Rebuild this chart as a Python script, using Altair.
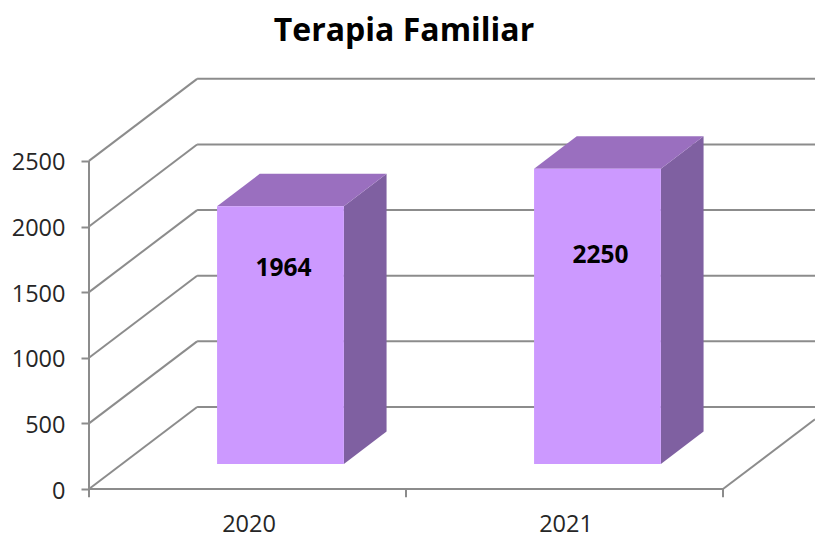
import altair as alt
import pandas as pd

categories = ["2020", "2021"]
values = [1964, 2250]
label_heights = [1486, 1585]
y_ticks = [0, 500, 1000, 1500, 2000, 2500]
title_text = "Terapia Familiar"

# oblique projection of the 3D chart, in data units
DEPTH_X, DEPTH_Y = 0.341, 625
BAR_D0, BAR_D1 = 0.305, 0.70
BAR_W = 0.40
UNIT_PX = 317
WIDTH = 726
XMAX, YMAX = WIDTH / UNIT_PX, 3200
GRID = "#8c8c8c"
FONT = "Open Sans"

xs = alt.Scale(domain=[0, XMAX], nice=False, zero=False)
ys = alt.Scale(domain=[0, YMAX], nice=False, zero=False)
X = lambda c: alt.X(c, type="quantitative", scale=xs, title=None,
                    axis=alt.Axis(values=[0.5, 1.5], labelExpr="datum.value < 1 ? '2020' : '2021'",
                                  ticks=False, domain=False, grid=False, labelFont=FONT,
                                  labelFontSize=23.5, labelColor="#262626", labelPadding=23,
                                  labelOffset=1))
Y = lambda c: alt.Y(c, type="quantitative", scale=ys, title=None,
                    axis=alt.Axis(values=y_ticks, format="d", domain=False, grid=False, tickColor=GRID,
                                  tickWidth=2, tickSize=8, labelFont=FONT, labelFontSize=23.5,
                                  labelColor="#262626", labelPadding=16, labelOffset=2))
X2 = lambda c: alt.X2(c)
Y2 = lambda c: alt.Y2(c)

# frame lines
walls = []
for v in y_ticks:
    walls.append(dict(x=0, x2=DEPTH_X, y=v, y2=v + DEPTH_Y))
    walls.append(dict(x=DEPTH_X, x2=XMAX, y=v + DEPTH_Y, y2=v + DEPTH_Y))
walls.append(dict(x=0, x2=0, y=0, y2=2500))
walls.append(dict(x=0, x2=2, y=0, y2=0))
walls.append(dict(x=2, x2=XMAX, y=0, y2=(XMAX - 2) / DEPTH_X * DEPTH_Y))
for t in [0, 1, 2]:
    walls.append(dict(x=t, x2=t, y=-62, y2=0))
frame = alt.Chart(pd.DataFrame(walls)).mark_rule(color=GRID, strokeWidth=2, clip=False).encode(
    x=X("x"), x2=X2("x2"), y=Y("y"), y2=Y2("y2"))

front_rows, side_rows, top_rows, label_rows = [], [], [], []
for i, (cat, val, lh) in enumerate(zip(categories, values, label_heights)):
    x0 = i + 0.5 - BAR_W / 2
    x1 = x0 + BAR_W
    fx0 = x0 + BAR_D0 * DEPTH_X
    fx1 = x1 + BAR_D0 * DEPTH_X
    fb = BAR_D0 * DEPTH_Y
    bx1 = x1 + BAR_D1 * DEPTH_X
    bb = BAR_D1 * DEPTH_Y
    bx0 = x0 + BAR_D1 * DEPTH_X
    front_rows.append(dict(x=fx0, x2=fx1, y=fb, y2=fb + val))
    side_rows += [dict(cat=cat, x=fx1, y=fb, y2=fb + val), dict(cat=cat, x=bx1, y=bb, y2=bb + val)]
    top_rows += [dict(cat=cat, y=fb + val, x=fx0, x2=fx1), dict(cat=cat, y=bb + val, x=bx0, x2=bx1)]
    label_rows.append(dict(x=(fx0 + fx1) / 2, y=fb + lh, t=str(val)))

front = alt.Chart(pd.DataFrame(front_rows)).mark_rect(color="#CC99FF").encode(
    x=X("x"), x2=X2("x2"), y=Y("y"), y2=Y2("y2"))
side = alt.Chart(pd.DataFrame(side_rows)).mark_area(color="#7F60A1", opacity=1).encode(
    x=X("x"), y=Y("y"), y2=Y2("y2"), detail="cat:N")
top = alt.Chart(pd.DataFrame(top_rows)).mark_area(color="#9A6FBF", opacity=1, orient="horizontal").encode(
    y=Y("y"), x=X("x"), x2=X2("x2"), detail="cat:N")
labels = alt.Chart(pd.DataFrame(label_rows)).mark_text(
    font=FONT, fontSize=24.5, fontWeight="bold", color="#000000", dx=3).encode(
    x=X("x"), y=Y("y"), text="t:N")

chart = alt.layer(frame, side, top, front, labels).properties(
    width=WIDTH, height=420,
    padding={"left": 81, "top": 61, "right": 0, "bottom": 50},
    autosize=alt.AutoSizeParams(type="none"),
    title=alt.TitleParams(title_text, font=FONT, fontSize=32, fontWeight="bold", color="#000000",
                          anchor="middle", dx=-48, offset=21),
    background="#ffffff",
).configure_view(stroke=None)

chart.save("out.html", embed_options={"renderer": "svg", "actions": False})
